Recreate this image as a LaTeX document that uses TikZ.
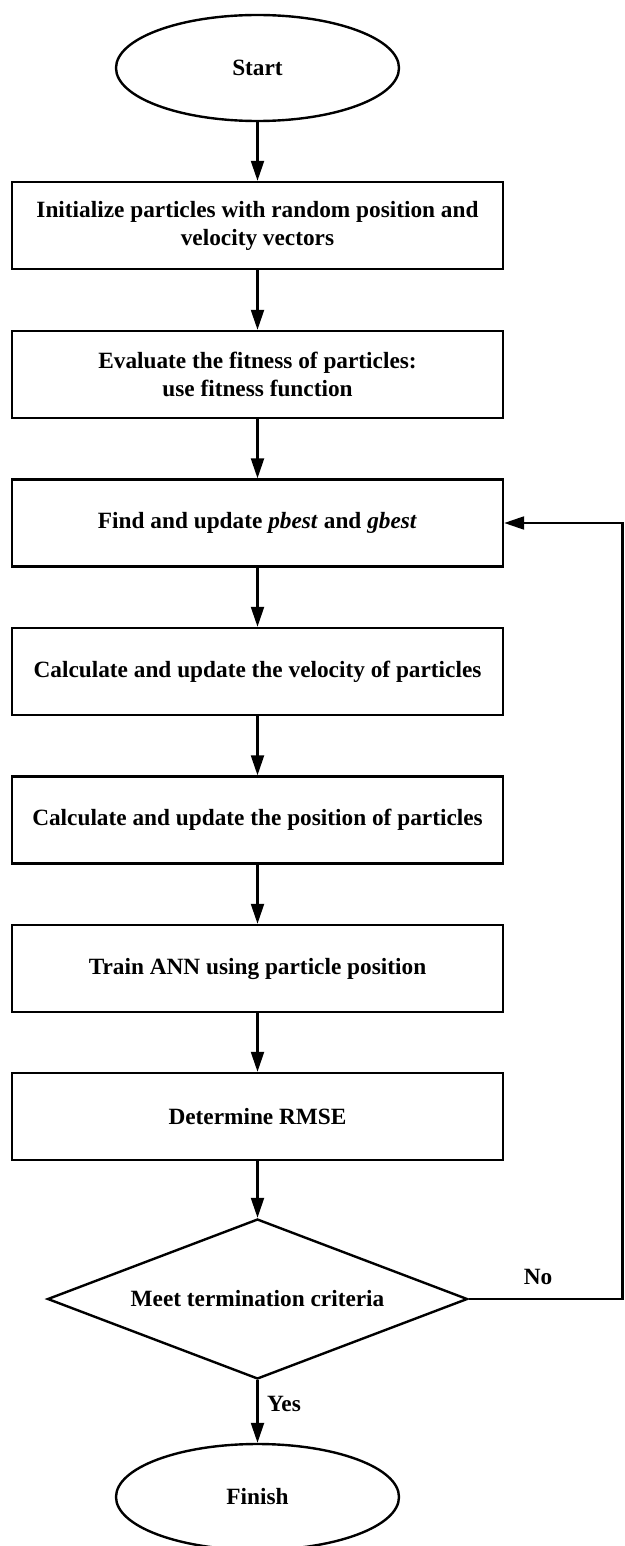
\documentclass[tikz,border=0pt]{standalone}
\usepackage{fontspec}
\setmainfont{Liberation Serif}
\usetikzlibrary{shapes.geometric,arrows.meta}

\begin{document}
\begin{tikzpicture}[x=1pt,y=-1pt,
  every node/.style={font=\fontsize{23.3}{28}\selectfont\bfseries, align=center},
  terminal/.style={draw, ellipse, line width=2.4pt, inner sep=0pt,
    minimum width=283pt, minimum height=106pt},
  process/.style={draw, rectangle, line width=2.4pt, inner sep=0pt,
    minimum width=491pt, minimum height=87pt},
  decision/.style={draw, diamond, aspect=2.625, line width=2.4pt, inner sep=0pt,
    minimum width=420pt, minimum height=160pt},
  flow/.style={line width=2.2pt, -{Triangle[length=20pt,width=13pt]}},
  lbl/.style={font=\fontsize{23.3}{28}\selectfont\bfseries}
]
\useasboundingbox (0,0) rectangle (624,1546);

% flowchart nodes
\node[terminal] (start)  at (257.5,68)    {Start};
\node[process]  (init)   at (257.5,225.5) {Initialize particles with random position and\\velocity vectors};
\node[process]  (eval)   at (257.5,374.5) {Evaluate the fitness of particles:\\use fitness function};
\node[process]  (best)   at (257.5,523)   {Find and update \textit{pbest} and \textit{gbest}};
\node[process]  (vel)    at (257.5,671.5) {Calculate and update the velocity of particles};
\node[process]  (pos)    at (257.5,820)   {Calculate and update the position of particles};
\node[process]  (train)  at (257.5,968.5) {Train ANN using particle position};
\node[process]  (rmse)   at (257.5,1116.5){Determine RMSE};
\node[decision] (term)   at (257.5,1299)  {Meet termination criteria};
\node[terminal] (finish) at (257.5,1497)  {Finish};

% main flow
\draw[flow] (start) -- (init);
\draw[flow] (init) -- (eval);
\draw[flow] (eval) -- (best);
\draw[flow] (best) -- (vel);
\draw[flow] (vel) -- (pos);
\draw[flow] (pos) -- (train);
\draw[flow] (train) -- (rmse);
\draw[flow] (rmse) -- (term);
\draw[flow] (term) -- (finish);
\node[lbl] (yes) at (284,1404) {Yes};

% loop back when the criteria are not met
\coordinate (turn) at (622.5,1299);
\draw[flow] (term.east) -- (turn) |- (best.east);
\node[lbl] (no) at (538,1277) {No};
\end{tikzpicture}
\end{document}
